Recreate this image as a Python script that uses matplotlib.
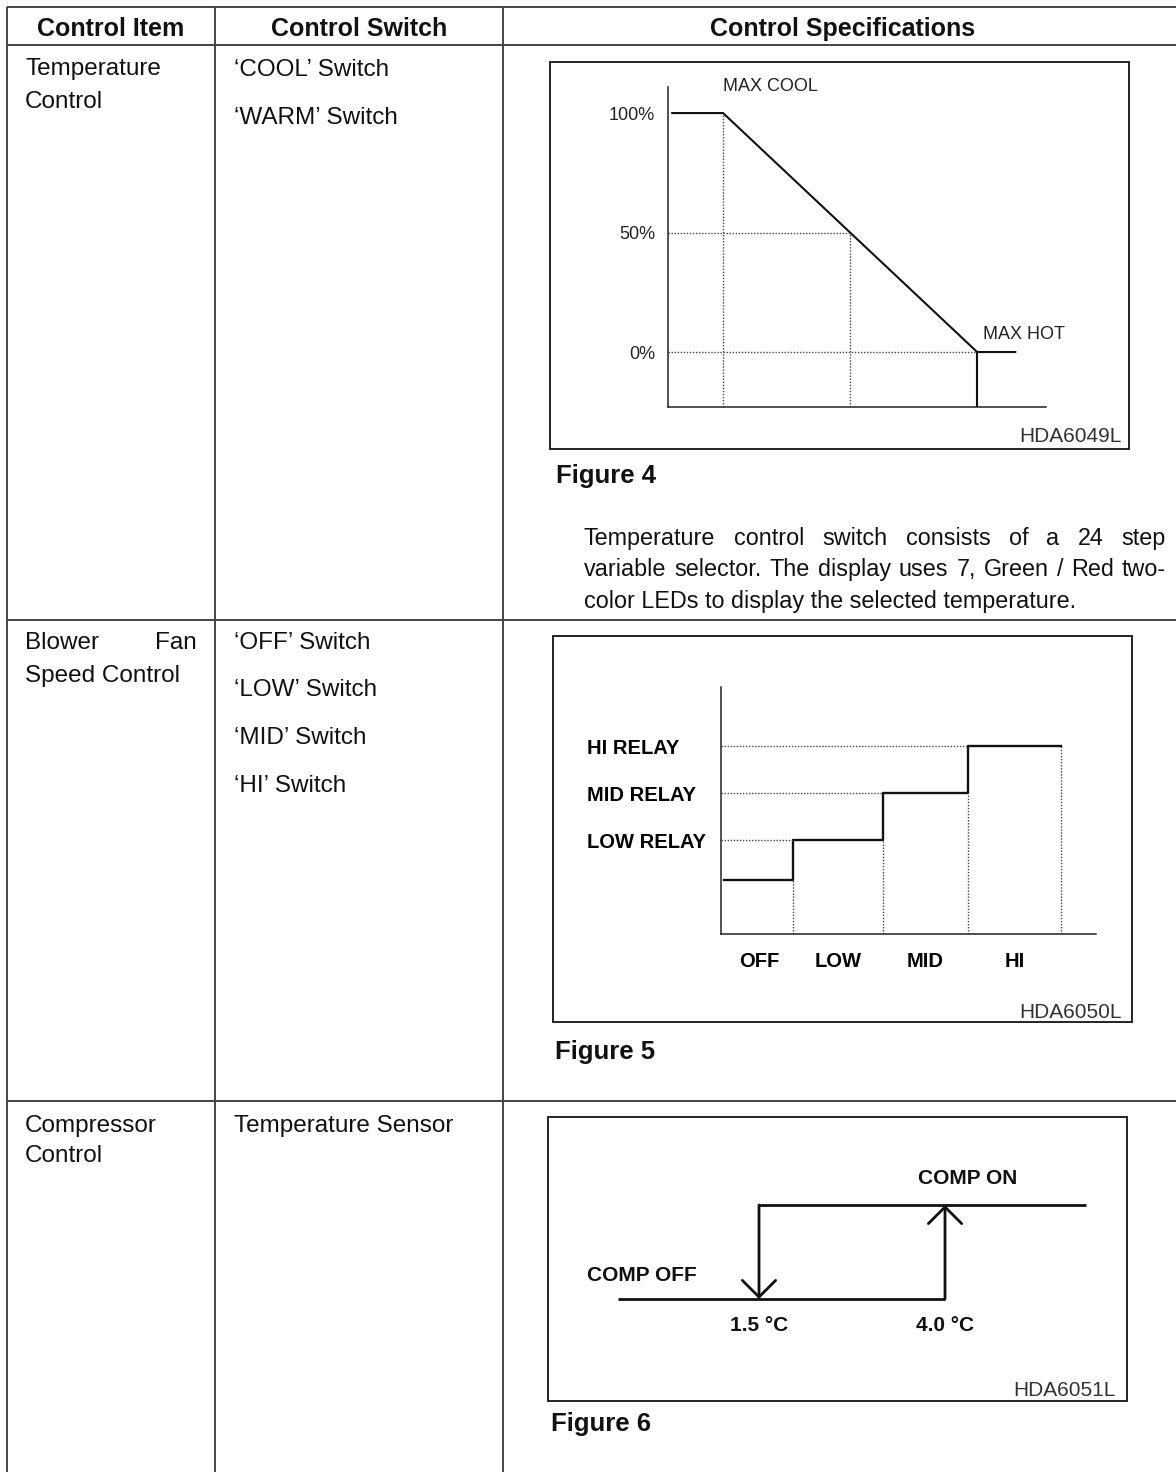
import numpy as np
import matplotlib
matplotlib.use('Agg')
import matplotlib.pyplot as plt
from matplotlib.patches import Rectangle

plt.rcParams['font.family'] = ['Liberation Sans', 'DejaVu Sans']

W, H = 1176, 1472

# table content
headers = ['Control Item', 'Control Switch', 'Control Specifications']
items = [['Temperature', 'Control'],
         ['Blower Fan', 'Speed Control'],
         ['Compressor', 'Control']]
switches = [['\u2018COOL\u2019 Switch', '\u2018WARM\u2019 Switch'],
            ['\u2018OFF\u2019 Switch', '\u2018LOW\u2019 Switch', '\u2018MID\u2019 Switch', '\u2018HI\u2019 Switch'],
            ['Temperature Sensor']]
para = ['Temperature control switch consists of a 24 step',
        'variable selector. The display uses 7, Green / Red two-',
        'color LEDs to display the selected temperature.']

# figure 4 : mix door opening vs selector step
f4_levels = [100, 50, 0]
f4_ticklabels = ['100%', '50%', '0%']
f4_step = [-4.8, 0, 24, 27.6]
f4_open = [100, 100, 0, 0]

# figure 5 : blower relays
f5_speeds = ['OFF', 'LOW', 'MID', 'HI']
f5_edges = [0.04, 0.85, 1.9, 2.9, 4.0]
f5_relay = [1.15, 2.0, 3.0, 4.0]
f5_relay_labels = ['LOW RELAY', 'MID RELAY', 'HI RELAY']

# figure 6 : compressor hysteresis (deg C)
f6_off_temp = 1.5
f6_on_temp = 4.0
f6_low_x = [-0.4, 4.0]
f6_high_x = [1.5, 5.9]

fig = plt.figure(figsize=(W / 100, H / 100), dpi=100)
ax0 = fig.add_axes([0, 0, 1, 1])
ax0.set_xlim(0, W)
ax0.set_ylim(H, 0)
ax0.axis('off')

ink = '#111111'


def put(x, yc, s, size, weight='normal', ha='left', color=ink):
    # yc is the centre of the capitals, in pixels from the top
    return ax0.text(x, yc + 0.36 * size * 100 / 72, s, fontsize=size,
                    fontweight=weight, ha=ha, va='baseline', color=color)


def justify(words, x0, x1, yc, size):
    r = fig.canvas.get_renderer()
    ts = [put(x0, yc, w, size) for w in words]
    widths = [t.get_window_extent(r).width for t in ts]
    gap = (x1 - x0 - sum(widths)) / (len(ts) - 1)
    x = x0
    for t, w in zip(ts, widths):
        t.set_x(x)
        x += w + gap


def px_axes(left, top, right, bottom):
    a = fig.add_axes([left / W, 1 - bottom / H, (right - left) / W, (bottom - top) / H])
    a.set_facecolor('none')
    return a


# table grid
ax0.hlines([7, 45, 620, 1101], 7, W, color='#444444', lw=1.4)
ax0.vlines([7, 215, 503], 7, H, color='#444444', lw=1.4)

for cx, h in zip([111, 359, 843], headers):
    put(cx, 27, h, 18, 'bold', ha='center')

item_y = [[66, 99], [640, 673], [1123, 1153]]
switch_y = [[67, 115], [640, 687, 735, 783], [1123]]
for lines, ys in zip(items, item_y):
    for s, y in zip(lines, ys):
        if s == 'Blower Fan':
            justify(s.split(), 25, 197, y, 17.5)
        else:
            put(25, y, s, 17.5)
for lines, ys in zip(switches, switch_y):
    for s, y in zip(lines, ys):
        put(234, y, s, 17.5)

# boxes, captions and drawing numbers
boxes = [(550, 62, 1129, 449), (553, 636, 1132, 1022), (548, 1117, 1127, 1401)]
for l, t, r, b in boxes:
    ax0.add_patch(Rectangle((l, t), r - l, b - t, fill=False, ec='#222222', lw=1.4))
for (x, y), s in zip([(556, 474), (555, 1050), (551, 1422)], ['Figure 4', 'Figure 5', 'Figure 6']):
    put(x, y, s, 18.5, 'bold')
for (x, y), s in zip([(1122, 435), (1122, 1011), (1116, 1388)], ['HDA6049L', 'HDA6050L', 'HDA6051L']):
    put(x, y, s, 15, ha='right', color='#333333')

# paragraph
justify(para[0].split(), 584, 1166, 537, 16.8)
justify(para[1].split(), 584, 1166, 568, 16.8)
put(584, 600, para[2], 16.8)

dots = dict(color='#444444', lw=1.0, linestyles=(0, (1, 1.2)))

# ---- Figure 4
ax4 = px_axes(668, 87, 1046, 407)
ax4.set_xlim(-5.2, 30.5)
ax4.set_ylim(-23, 110.9)
ylo4 = ax4.get_ylim()[0]
xlo4 = ax4.get_xlim()[0]
ax4.plot(f4_step, f4_open, color=ink, lw=1.5, solid_joinstyle='miter')
x50 = np.interp(50, [f4_open[2], f4_open[1]], [f4_step[2], f4_step[1]])
ax4.vlines(f4_step[1], ylo4, f4_open[1], **dots)
ax4.vlines(x50, ylo4, 50, **dots)
ax4.hlines(50, xlo4, x50, **dots)
ax4.hlines(f4_open[2], xlo4, f4_step[2], **dots)
ax4.vlines(f4_step[2], ylo4, f4_open[2], color=ink, lw=1.5)
ax4.set_yticks(f4_levels, f4_ticklabels)
ax4.set_xticks([])
ax4.tick_params(axis='y', length=0, pad=9.4, labelsize=13, labelcolor='#222222')
for s in ['top', 'right']:
    ax4.spines[s].set_visible(False)
for s in ['left', 'bottom']:
    ax4.spines[s].set_color('#222222')
    ax4.spines[s].set_linewidth(1.1)
ax4.text(f4_step[1], f4_open[1] + 11, 'MAX COOL', fontsize=13, va='center', color='#222222', clip_on=False)
ax4.text(f4_step[2] + 0.55, f4_open[2] + 7.5, 'MAX HOT', fontsize=13, va='center', color='#222222')

# ---- Figure 5
ax5 = px_axes(721, 687, 1096, 934)
ax5.set_xlim(0, 4.41)
ax5.set_ylim(0, 5.26)
ax5.plot(f5_edges, f5_relay + [f5_relay[-1]], drawstyle='steps-post', color=ink, lw=1.7)
for lev, e in zip(f5_relay[1:], f5_edges[1:4]):
    ax5.hlines(lev, 0, e, **dots)
for e, lev in zip(f5_edges[1:], f5_relay):
    ax5.vlines(e, 0, lev, **dots)
mids = [(a + b) / 2 for a, b in zip(f5_edges[:-1], f5_edges[1:])]
ax5.set_xticks(mids, f5_speeds)
ax5.set_yticks(f5_relay[1:], f5_relay_labels)
ax5.tick_params(length=0, labelsize=14.5)
ax5.tick_params(axis='x', pad=20)
ax5.tick_params(axis='y', pad=96.5)
for lab in ax5.get_xticklabels():
    lab.set_fontweight('bold')
    lab.set_va('center')
for lab in ax5.get_yticklabels():
    lab.set_fontweight('bold')
    lab.set_ha('left')
for s in ['top', 'right']:
    ax5.spines[s].set_visible(False)
for s in ['left', 'bottom']:
    ax5.spines[s].set_color('#222222')
    ax5.spines[s].set_linewidth(1.1)

# ---- Figure 6
ax6 = px_axes(548, 1117, 1127, 1401)
ax6.set_xlim(-1.336, 6.446)
ax6.set_ylim(-1.085, 1.936)
ax6.axis('off')
ax6.plot(f6_low_x, [0, 0], color=ink, lw=2, solid_capstyle='butt')
ax6.plot(f6_high_x, [1, 1], color=ink, lw=2, solid_capstyle='butt')
arrow = dict(arrowstyle='->,head_length=12,head_width=12', mutation_scale=1,
             lw=2, color=ink, shrinkA=0, shrinkB=0)
ax6.annotate('', xy=(f6_on_temp, 1), xytext=(f6_on_temp, 0), arrowprops=arrow)
ax6.annotate('', xy=(f6_off_temp, 0), xytext=(f6_off_temp, 1), arrowprops=arrow)
ax6.text(-0.81, 0.255, 'COMP OFF', fontsize=15, fontweight='bold', va='center', color=ink)
ax6.text(f6_on_temp + 0.3, 1.277, 'COMP ON', fontsize=15, fontweight='bold', ha='center', va='center', color=ink)
for t in [f6_off_temp, f6_on_temp]:
    ax6.text(t, -0.277, '%.1f \u00b0C' % t, fontsize=15, fontweight='bold', ha='center', va='center', color=ink)

fig.savefig('out.png', dpi=100)
